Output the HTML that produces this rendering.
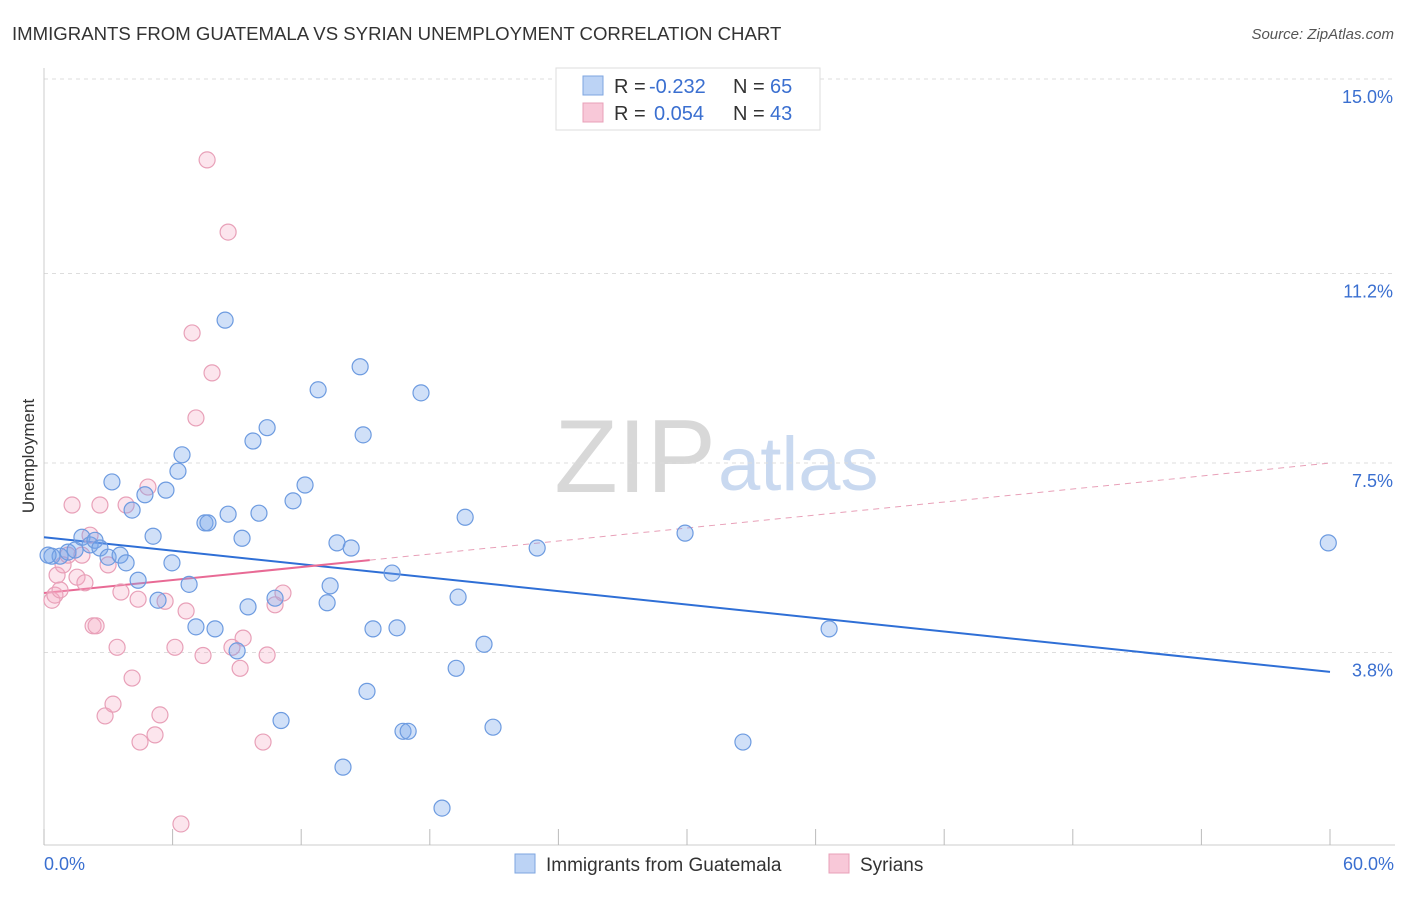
<!DOCTYPE html>
<html><head><meta charset="utf-8"><style>
body{margin:0;background:#fff;font-family:"Liberation Sans",sans-serif;}
svg text{font-family:"Liberation Sans",sans-serif;}
</style></head><body>
<svg id="chart" width="1406" height="892" xmlns="http://www.w3.org/2000/svg">
<text x="12" y="40" font-size="18.6" fill="#333">IMMIGRANTS FROM GUATEMALA VS SYRIAN UNEMPLOYMENT CORRELATION CHART</text>
<text x="1394" y="39" font-size="15" fill="#555" font-style="italic" text-anchor="end">Source: ZipAtlas.com</text>
<text x="716" y="492" font-size="104" fill="#d8d8d8" text-anchor="end" font-family="Liberation Serif">ZIP</text>
<text x="718" y="490" font-size="76" fill="#c9d9f0">atlas</text>
<text x="34" y="456" font-size="17" fill="#333" text-anchor="middle" transform="rotate(-90 34 456)">Unemployment</text>
<g id="grid"></g><g id="axes"></g><g id="trend"></g><g id="pts"></g>
<g>
<rect x="556" y="68" width="264" height="62" fill="#fff" stroke="#ddd"/>
<rect x="583" y="76" width="20" height="19" fill="#bcd3f5" stroke="#7ea6e0"/>
<text x="614" y="93" font-size="20" fill="#333">R =</text>
<text x="649" y="93" font-size="20" fill="#3a6fd0">-0.232</text>
<text x="733" y="93" font-size="20" fill="#333">N =</text>
<text x="770" y="93" font-size="20" fill="#3a6fd0">65</text>
<rect x="583" y="103" width="20" height="19" fill="#f8c8d8" stroke="#e8a0b8"/>
<text x="614" y="120" font-size="20" fill="#333">R =</text>
<text x="654" y="120" font-size="20" fill="#3a6fd0">0.054</text>
<text x="733" y="120" font-size="20" fill="#333">N =</text>
<text x="770" y="120" font-size="20" fill="#3a6fd0">43</text>
</g>
<g>
<rect x="515" y="854" width="20" height="19" fill="#bcd3f5" stroke="#7ea6e0"/>
<text x="546" y="871" font-size="19" fill="#333">Immigrants from Guatemala</text>
<rect x="829" y="854" width="20" height="19" fill="#f8c8d8" stroke="#e8a0b8"/>
<text x="860" y="871" font-size="19" fill="#333">Syrians</text>
</g>
</svg>
<script>
const yTicks=[15.0,11.2,7.5,3.8];
const yTickLabels=["15.0%","11.2%","7.5%","3.8%"];
const xTickLabels=["0.0%","60.0%"];
const blueX=[0.37,0.75,1.12,1.45,1.77,2.15,2.38,2.61,2.99,3.17,3.55,3.83,4.11,4.39,4.71,5.09,5.32,5.69,5.97,6.25,6.44,6.77,7.09,7.51,7.65,7.98,8.45,8.59,9.01,9.24,9.52,9.75,10.03,10.41,10.78,11.06,11.62,12.18,12.79,13.21,13.35,13.67,13.95,14.33,14.75,14.89,15.07,15.35,16.24,16.47,16.75,16.99,17.59,18.57,19.23,19.32,19.65,20.53,20.95,23.01,29.91,32.61,36.63,59.92,0.19];
const blueY=[5.68,5.68,5.76,5.80,6.05,5.90,5.99,5.84,5.66,7.13,5.70,5.55,6.58,5.21,6.88,6.07,4.82,6.97,5.55,7.34,7.66,5.13,4.30,6.33,6.33,4.26,10.29,6.50,3.83,6.03,4.69,7.93,6.52,8.19,4.86,2.47,6.76,7.07,8.93,4.77,5.10,5.94,1.56,5.84,9.38,8.05,3.04,4.26,5.35,4.28,2.26,2.26,8.87,0.76,3.49,4.88,6.44,3.96,2.34,5.84,6.13,2.05,4.26,5.94,5.70];
const pinkX=[0.37,0.51,0.61,0.75,0.89,1.12,1.31,1.54,1.77,1.91,2.15,2.29,2.43,2.61,2.85,2.99,3.22,3.41,3.59,3.83,4.11,4.39,4.48,4.85,5.18,5.41,5.65,6.11,6.39,6.63,6.91,7.09,7.42,7.61,7.84,8.59,8.77,9.15,9.29,10.22,10.41,10.78,11.15];
const pinkY=[4.82,4.92,5.31,5.02,5.51,5.70,6.68,5.27,5.70,5.16,6.09,4.32,4.32,6.68,2.56,5.51,2.79,3.90,4.98,6.68,3.30,4.84,2.05,7.03,2.19,2.58,4.80,3.90,0.45,4.61,10.04,8.38,3.74,13.42,9.26,12.01,3.90,3.49,4.08,2.05,3.75,4.73,4.96];
const blueTrend=[6.05,3.42];
const pinkTrend=[4.96,7.50];
const ns="http://www.w3.org/2000/svg";
const X0=44,X1=1330,Ytop=79;
function sx(v){return X0+v*(X1-X0)/60;}
function sy(v){return Ytop+(15-v)*51.2;}
function mk(tag,attrs,parent){const e=document.createElementNS(ns,tag);for(const k in attrs)e.setAttribute(k,attrs[k]);parent.appendChild(e);return e;}
const grid=document.getElementById('grid'),axes=document.getElementById('axes');
yTicks.forEach((t,i)=>{
 const l=mk('line',{x1:44,x2:1395,y1:sy(t),y2:sy(t),stroke:'#ddd','stroke-dasharray':'4,4'},grid);
 
 
 const tx=mk('text',{x:1393,y:sy(t)+24,'font-size':18,fill:'#3a6fd0','text-anchor':'end'},axes);
 tx.textContent=yTickLabels[i];
 
 
});
let a=mk('line',{x1:44,x2:44,y1:68,y2:845,stroke:'#ccc'},axes);


a=mk('line',{x1:44,x2:1395,y1:845,y2:845,stroke:'#ccc'},axes);


for(let i=0;i<=10;i++){const t=mk('line',{x1:sx(i*6),x2:sx(i*6),y1:829,y2:845,stroke:'#bbb'},axes);
 
 }
let t1=mk('text',{x:44,y:870,'font-size':18,fill:'#3a6fd0'},axes);t1.textContent=xTickLabels[0];


t1=mk('text',{x:1394,y:870,'font-size':18,fill:'#3a6fd0','text-anchor':'end'},axes);t1.textContent=xTickLabels[1];


const pts=document.getElementById('pts');
pinkX.forEach((x,i)=>{const c=mk('circle',{cx:sx(x),cy:sy(pinkY[i]),r:8,fill:'rgba(244,170,195,0.3)',stroke:'#e8a0b8','stroke-width':1.2},pts);
 
 });
blueX.forEach((x,i)=>{const c=mk('circle',{cx:sx(x),cy:sy(blueY[i]),r:8,fill:'rgba(120,165,235,0.35)',stroke:'#6d9be0','stroke-width':1.2},pts);
 
 });
const tr=document.getElementById('trend');
let l=mk('line',{x1:sx(0),y1:sy(blueTrend[0]),x2:sx(60),y2:sy(blueTrend[1]),stroke:'#2f6fd6','stroke-width':2},tr);


const pm=v=>pinkTrend[0]+(pinkTrend[1]-pinkTrend[0])*v/60;
l=mk('line',{x1:sx(0),y1:sy(pm(0)),x2:sx(15.2),y2:sy(pm(15.2)),stroke:'#e86a95','stroke-width':2},tr);


l=mk('line',{x1:sx(15.2),y1:sy(pm(15.2)),x2:sx(60),y2:sy(pm(60)),stroke:'#e8a0b8','stroke-width':1,'stroke-dasharray':'6,5'},tr);


</script>
</body></html>
